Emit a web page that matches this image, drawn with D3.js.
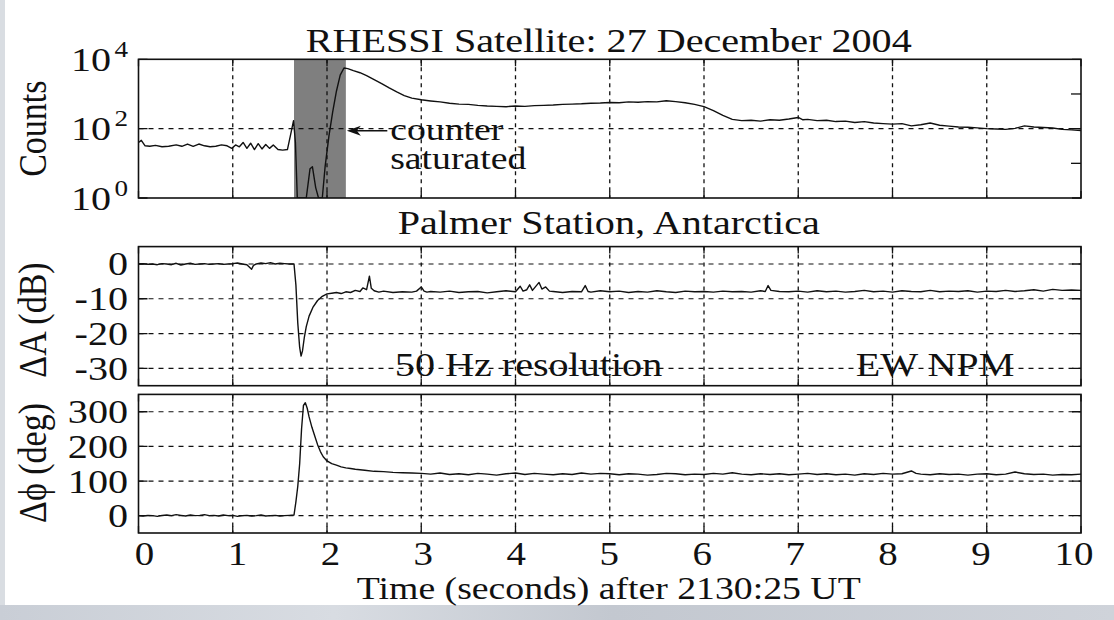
<html>
<script src="https://d3js.org/d3.v7.min.js"></script>
<style>
  body { margin: 0; background: #fff; }
  text { font-family: "Liberation Serif", "Times New Roman", serif; fill: #111; }
</style>
<body>
<div id="chart_area"></div>
</body>
<script>

// x ticks (seconds after 2130:25 UT)
var timeTicks = [0, 1, 2, 3, 4, 5, 6, 7, 8, 9, 10];

// RHESSI counts  [time, counts]
var countsData = [[0,40],[0.03,46],[0.07,32],[0.12,31],[0.18,33],[0.25,30],[0.32,31],[0.4,34],[0.46,31],[0.52,36],
  [0.58,31],[0.64,36],[0.7,32],[0.76,30],[0.82,31],[0.88,34],[0.94,32],[0.99,27],[1.03,34],[1.07,30],[1.11,40],
  [1.15,27],[1.19,38],[1.23,25],[1.27,37],[1.31,26],[1.35,35],[1.39,27],[1.43,34],[1.48,25],[1.53,24],[1.58,25],
  [1.61,60],[1.645,170],[1.665,40],[1.685,1],[1.78,1],[1.82,7],[1.845,8],[1.88,2],[1.91,1],[1.95,1],[1.98,8],
  [2.02,60],[2.06,300],[2.1,1200],[2.14,3500],[2.18,5600],[2.22,5400],[2.28,4700],[2.35,4100],[2.42,3400],[2.5,2600],
  [2.58,2000],[2.66,1500],[2.74,1150],[2.82,900],[2.9,760],[3.0,680],[3.1,630],[3.2,590],[3.3,540],[3.4,510],[3.5,500],
  [3.6,470],[3.7,450],[3.8,440],[3.9,430],[4.0,450],[4.1,440],[4.2,460],[4.3,470],[4.4,480],[4.5,500],[4.6,510],
  [4.7,520],[4.8,540],[4.9,550],[5.0,570],[5.1,560],[5.2,590],[5.3,580],[5.4,600],[5.5,590],[5.6,640],[5.7,600],
  [5.8,560],[5.9,500],[6.0,430],[6.1,330],[6.2,240],[6.3,185],[6.4,170],[6.5,175],[6.6,165],[6.7,180],[6.8,175],
  [6.9,190],[7.0,210],[7.05,180],[7.1,185],[7.2,170],[7.3,175],[7.4,160],[7.5,165],[7.6,150],[7.7,160],[7.8,145],
  [7.9,140],[8.0,135],[8.1,140],[8.2,120],[8.3,130],[8.4,145],[8.5,125],[8.6,118],[8.7,112],[8.8,110],[8.9,105],
  [9.0,100],[9.1,98],[9.2,95],[9.3,102],[9.4,120],[9.5,112],[9.6,108],[9.7,104],[9.8,95],[9.9,92],[10.0,88]];
var countTicks = [1, 100, 10000];
var countMinorTicks = [10, 1000];
var saturatedSpan = [1.65, 2.2];

// Palmer amplitude change, dB  [time, dA]
var ampData = [[0,0],[0.05,0.1],[0.1,-0.1],[0.15,0],[0.2,-0.2],[0.25,0.1],[0.3,0],[0.35,-0.2],[0.4,0.2],[0.45,-0.3],
  [0.5,0],[0.55,0.2],[0.6,-0.1],[0.65,0],[0.7,0.1],[0.75,-0.1],[0.8,0],[0.85,0.1],[0.9,-0.1],[0.95,0],[1.0,0.1],
  [1.05,0.3],[1.1,0],[1.15,-0.2],[1.2,-1.5],[1.22,-0.4],[1.25,0],[1.3,0.3],[1.35,0.1],[1.4,0.4],[1.45,0],[1.5,0.2],
  [1.55,0.1],[1.6,0],[1.65,0],[1.67,-6],[1.69,-17],[1.71,-24],[1.725,-26.5],[1.74,-25],[1.76,-21],[1.78,-18],
  [1.81,-15],[1.85,-12.5],[1.9,-10.5],[1.95,-9.3],[2.0,-8.6],[2.05,-8.4],[2.1,-8.2],[2.15,-8.5],[2.2,-8.0],[2.25,-8.2],
  [2.3,-7.6],[2.35,-7.9],[2.38,-6.9],[2.42,-7.4],[2.45,-3.5],[2.47,-7.0],[2.5,-7.7],[2.55,-8.1],[2.6,-7.8],[2.7,-8.2],
  [2.8,-8.0],[2.9,-8.1],[2.95,-7.8],[3.0,-6.6],[3.03,-7.8],[3.06,-8.1],[3.1,-7.9],[3.2,-8.1],[3.3,-7.8],[3.4,-8.2],
  [3.5,-8.0],[3.6,-7.9],[3.7,-8.3],[3.8,-8.0],[3.9,-7.7],[4.0,-8.0],[4.05,-6.4],[4.08,-7.8],[4.12,-7.4],[4.15,-6.0],
  [4.18,-7.6],[4.25,-5.3],[4.28,-7.2],[4.32,-6.6],[4.36,-7.8],[4.4,-7.9],[4.5,-8.2],[4.6,-7.9],[4.7,-8.0],[4.74,-6.2],
  [4.77,-7.9],[4.8,-8.1],[4.9,-7.7],[5.0,-8.0],[5.1,-7.8],[5.2,-8.2],[5.3,-7.9],[5.4,-8.1],[5.5,-7.7],[5.6,-8.0],
  [5.7,-8.2],[5.8,-7.8],[5.9,-8.0],[6.0,-7.9],[6.1,-8.1],[6.2,-7.8],[6.3,-8.0],[6.4,-7.9],[6.5,-8.1],[6.6,-7.7],
  [6.65,-7.9],[6.68,-6.2],[6.71,-7.6],[6.8,-7.9],[6.9,-8.0],[7.0,-7.8],[7.1,-8.1],[7.2,-7.7],[7.3,-8.0],[7.4,-7.8],
  [7.5,-8.1],[7.6,-7.9],[7.7,-7.6],[7.8,-8.0],[7.9,-7.8],[8.0,-8.1],[8.1,-7.7],[8.2,-7.9],[8.3,-8.0],[8.4,-7.6],
  [8.5,-8.0],[8.6,-7.8],[8.7,-7.9],[8.8,-7.7],[8.9,-8.1],[9.0,-7.8],[9.1,-7.9],[9.2,-7.6],[9.3,-7.9],[9.4,-7.7],
  [9.5,-7.4],[9.6,-7.8],[9.7,-7.3],[9.8,-7.6],[9.9,-7.5],[10.0,-7.6]];
var ampTicks = [0, -10, -20, -30];

// Palmer phase change, degrees  [time, dphi]
var phaseData = [[0,0],[0.05,-1],[0.1,1],[0.15,0],[0.2,-2],[0.25,1],[0.3,2],[0.35,0],[0.4,3],[0.45,1],[0.5,-1],
  [0.55,2],[0.6,0],[0.65,1],[0.7,3],[0.75,0],[0.8,1],[0.85,-1],[0.9,2],[0.95,0],[1.0,1],[1.05,-2],[1.1,0],[1.15,1],
  [1.2,-1],[1.25,0],[1.3,2],[1.35,-1],[1.4,0],[1.45,1],[1.5,-1],[1.55,0],[1.6,1],[1.65,2],[1.67,40],[1.69,85],
  [1.71,150],[1.73,250],[1.75,318],[1.77,326],[1.79,310],[1.81,285],[1.84,255],[1.87,230],[1.9,205],[1.93,185],
  [1.96,170],[2.0,158],[2.05,150],[2.1,146],[2.15,141],[2.2,138],[2.25,136],[2.3,134],[2.4,131],[2.5,128],[2.6,127],
  [2.7,125],[2.8,124],[2.9,123],[3.0,122],[3.1,120],[3.2,123],[3.3,119],[3.4,121],[3.5,118],[3.6,122],[3.7,120],
  [3.8,117],[3.9,121],[4.0,123],[4.1,119],[4.2,122],[4.3,120],[4.4,118],[4.5,121],[4.6,119],[4.7,123],[4.8,120],
  [4.9,122],[5.0,121],[5.1,118],[5.2,121],[5.3,120],[5.4,117],[5.5,119],[5.6,122],[5.7,121],[5.8,118],[5.9,120],
  [6.0,119],[6.1,122],[6.2,120],[6.3,124],[6.4,120],[6.5,118],[6.6,121],[6.7,119],[6.8,121],[6.9,118],[7.0,120],
  [7.1,122],[7.2,119],[7.3,121],[7.4,118],[7.5,120],[7.6,117],[7.7,121],[7.8,119],[7.9,122],[8.0,120],[8.1,121],
  [8.2,129],[8.25,122],[8.3,120],[8.4,118],[8.5,121],[8.6,119],[8.7,120],[8.8,117],[8.9,120],[9.0,121],[9.1,118],
  [9.2,120],[9.3,126],[9.4,121],[9.5,119],[9.6,120],[9.7,117],[9.8,119],[9.9,118],[10.0,120]];
var phaseTicks = [0, 100, 200, 300];

var width = 1114, height = 620;
var SX = 1.18;      // the figure is stretched sideways
var FS = 34;

var svg = d3.select("#chart_area").append("svg")
    .attr("width", width).attr("height", height);

// photo edges of the scan
var grad = svg.append("defs").append("linearGradient").attr("id", "bg").attr("x1", 0).attr("x2", 1);
grad.append("stop").attr("offset", "0%").attr("stop-color", "#c9ced6");
grad.append("stop").attr("offset", "30%").attr("stop-color", "#d8dce2");
grad.append("stop").attr("offset", "55%").attr("stop-color", "#c3c8d0");
grad.append("stop").attr("offset", "100%").attr("stop-color", "#cfd3da");
svg.append("rect").attr("x", 0).attr("y", 0).attr("width", width).attr("height", height).attr("fill", "#fff");
svg.append("rect").attr("x", 0).attr("y", 0).attr("width", 5).attr("height", height).attr("fill", "#d9dde2");
svg.append("rect").attr("x", 0).attr("y", 605).attr("width", width).attr("height", 15).attr("fill", "url(#bg)");

var x = d3.scaleLinear().domain([0, 10]).range([138.5, 1081]);
var yCounts = d3.scaleLog().domain([1, 10000]).range([198, 59.3]);
var yAmp = d3.scaleLinear().domain([-35, 5]).range([385.7, 246.6]);
var yPhase = d3.scaleLinear().domain([-50, 350]).range([533, 394.4]);

function label(g, str, px, py, anchor, size, rot) {
    return g.append("text")
        .attr("transform", "translate(" + px + "," + py + ") scale(" + SX + ",1)" + (rot ? " rotate(-90)" : ""))
        .attr("text-anchor", anchor)
        .style("font-size", size + "px")
        .text(str);
}

function panel(id, y, yGrid, yTickVals, yTickFmt, data, extra) {
    var g = svg.append("g");
    var y0 = y.range()[0], y1 = y.range()[1];
    g.append("clipPath").attr("id", id).append("rect")
        .attr("x", x(0)).attr("y", y1).attr("width", x(10) - x(0)).attr("height", y0 - y1);
    if (extra) extra(g);
    // grid
    g.selectAll(".vg").data(timeTicks.slice(1, -1)).enter().append("line")
        .attr("x1", d => x(d)).attr("x2", d => x(d)).attr("y1", y1).attr("y2", y0)
        .attr("stroke", "#111").attr("stroke-width", 1.3).attr("stroke-dasharray", "4,4");
    g.selectAll(".hg").data(yGrid).enter().append("line")
        .attr("x1", x(0)).attr("x2", x(10)).attr("y1", d => y(d)).attr("y2", d => y(d))
        .attr("stroke", "#111").attr("stroke-width", 1.2).attr("stroke-dasharray", "5,5");
    // ticks inside
    g.selectAll(".tt").data(timeTicks).enter().append("path")
        .attr("d", d => "M" + x(d) + "," + y1 + "v7M" + x(d) + "," + y0 + "v-7")
        .attr("stroke", "#111").attr("stroke-width", 1.3);
    g.selectAll(".yt").data(yTickVals).enter().append("path")
        .attr("d", d => "M" + x(0) + "," + y(d) + "h9M" + x(10) + "," + y(d) + "h-9")
        .attr("stroke", "#111").attr("stroke-width", 1.3);
    // line
    g.append("path").datum(data)
        .attr("clip-path", "url(#" + id + ")")
        .attr("fill", "none").attr("stroke", "#111").attr("stroke-width", 1.4).attr("stroke-linejoin", "round")
        .attr("d", d3.line().x(d => x(d[0])).y(d => y(Math.max(d[1], y.domain()[0]))));
    // frame
    g.append("rect").attr("x", x(0)).attr("y", y1).attr("width", x(10) - x(0)).attr("height", y0 - y1)
        .attr("fill", "none").attr("stroke", "#111").attr("stroke-width", 1.6);
    // y labels
    if (yTickFmt) yTickFmt(g);
    else yTickVals.forEach(function(v) { label(g, v, 128, y(v) + 11.5, "end", FS); });
    return g;
}

// top panel: RHESSI
var gTop = panel("clipTop", yCounts, [100], countTicks, function(g) {
    countTicks.forEach(function(v) {
        var e = Math.round(Math.log10(v));
        label(g, e, 128, yCounts(v) - 2.5, "end", 23);
        label(g, "10", 111, yCounts(v) + 11.5, "end", FS);
    });
    countMinorTicks.forEach(function(v) {
        g.append("path").attr("d", "M" + x(10) + "," + yCounts(v) + "h-10")
            .attr("stroke", "#111").attr("stroke-width", 1.3);
    });
}, countsData, function(g) {
    g.append("rect").attr("x", x(saturatedSpan[0])).attr("y", yCounts(10000))
        .attr("width", x(saturatedSpan[1]) - x(saturatedSpan[0])).attr("height", yCounts(1) - yCounts(10000))
        .attr("fill", "#7f7f7f");
});
label(gTop, "RHESSI Satellite: 27 December 2004", x(5) - 1, 52, "middle", FS);
label(gTop, "Counts", 46, (yCounts(1) + yCounts(10000)) / 2, "middle", FS, true);
var ay = yCounts(87);
gTop.append("line").attr("x1", x(2.26)).attr("x2", x(2.64)).attr("y1", ay).attr("y2", ay)
    .attr("stroke", "#111").attr("stroke-width", 1.5);
gTop.append("path")
    .attr("d", "M" + (x(2.2) + 1) + "," + ay + "l14,-5l-4,5l4,5z")
    .attr("fill", "#111");
label(gTop, "counter", x(2.67), yCounts(48), "start", 32);
label(gTop, "saturated", x(2.67), yCounts(6.8), "start", 32);

// middle panel: amplitude
var gMid = panel("clipMid", yAmp, ampTicks, ampTicks, null, ampData);
label(gMid, "Palmer Station, Antarctica", x(5) - 1, 234, "middle", FS);
label(gMid, "\u0394A (dB)", 46, 320, "middle", FS, true);
label(gMid, "50 Hz resolution", x(2.72), yAmp(-32.2), "start", FS);
label(gMid, "EW NPM", x(7.61), yAmp(-32.2), "start", FS);

// bottom panel: phase
var gBot = panel("clipBot", yPhase, phaseTicks, phaseTicks, null, phaseData);
label(gBot, "\u0394\u03d5 (deg)", 46, 463, "middle", FS, true);
timeTicks.forEach(function(v) { label(gBot, v, x(v) + 6 - 1.3 * v, 565, "middle", 33); });
label(gBot, "Time (seconds) after 2130:25 UT", x(5) - 1, 599, "middle", 32);

</script>
</html>
